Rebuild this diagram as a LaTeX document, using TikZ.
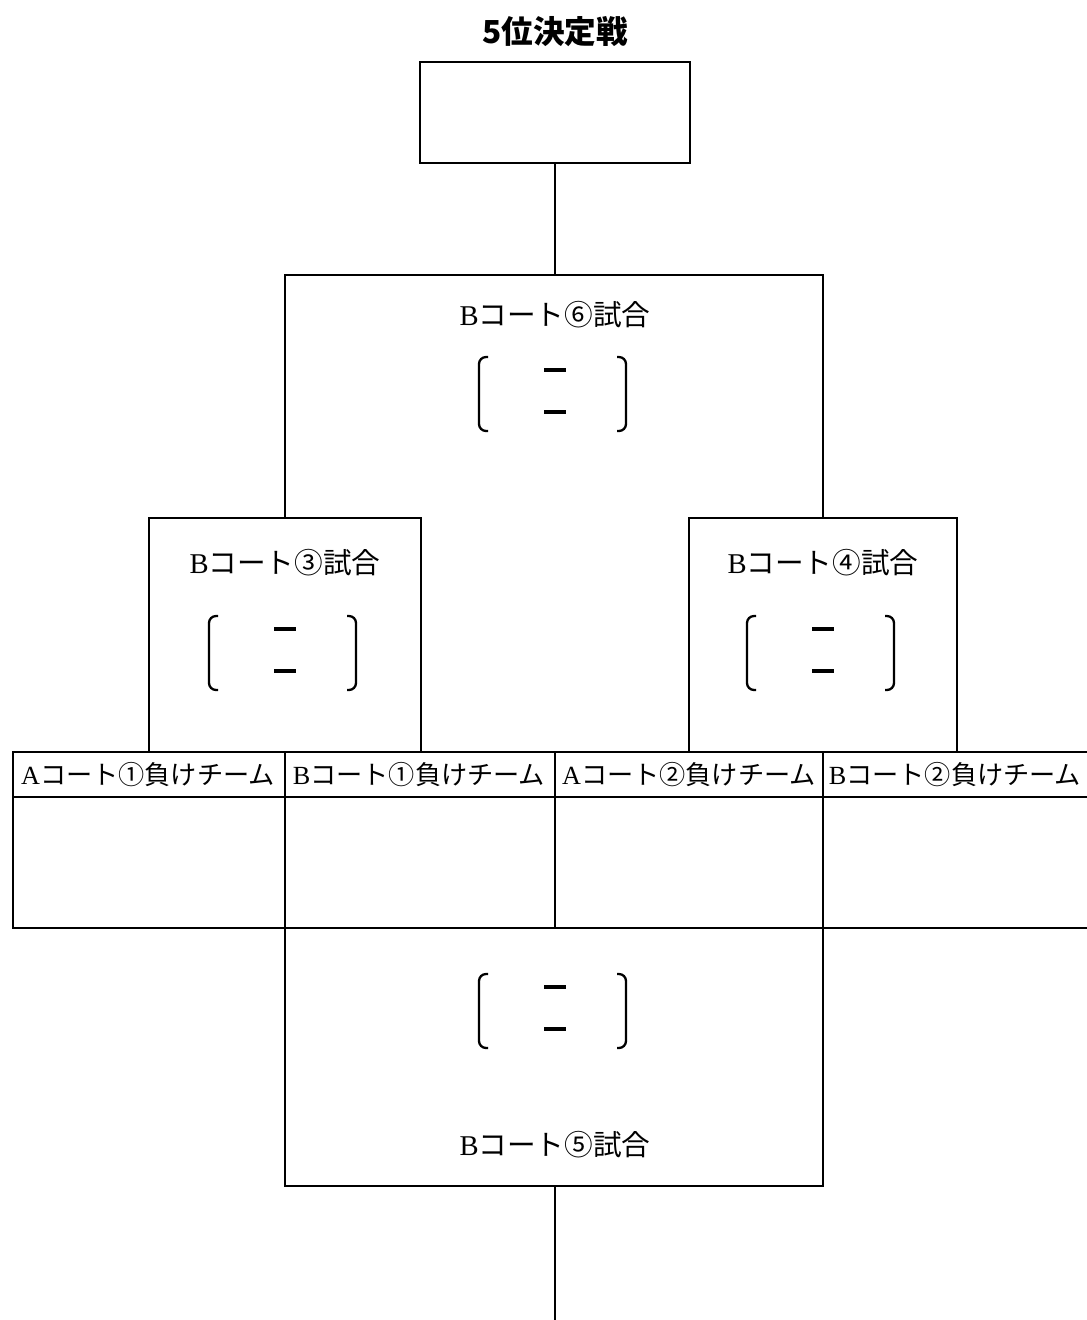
\documentclass[tikz,border=0pt]{standalone}
\usepackage{fontspec}
\setmainfont{Liberation Serif}
\newfontfamily\jpfont{Noto Sans CJK JP}
\usetikzlibrary{positioning}
\tikzset{%
	frame/.style    = {line width=1.4pt},
	title/.style    = {font=\jpfont\bfseries\fontsize{18}{20}\selectfont, inner sep=0pt},
	match/.style    = {font=\fontsize{16.3}{18}\selectfont, inner sep=0pt},
	team/.style     = {font=\fontsize{14.9}{17}\selectfont, inner sep=0pt},
	bracket/.style  = {line width=1.3pt, rounded corners=4pt},
	score/.style    = {line width=1.8pt},
}
% score brackets, centred on the dashes
\newcommand{\scoremarks}[1]{%
	\begin{scope}[shift={#1}]
		\draw[bracket] (-67,-37) -- (-76,-37) -- (-76,37) -- (-67,37);
		\draw[bracket] (62,-37) -- (71,-37) -- (71,37) -- (62,37);
		\draw[score] (-11,-24) -- (11,-24);
		\draw[score] (-11,18) -- (11,18);
	\end{scope}}

\begin{document}
\begin{tikzpicture}[x=0.02cm,y=-0.02cm]
	\useasboundingbox (0,0) rectangle (1087,1320);
	\node[title] (head) at (555,32) {5位決定戦};

	% final box and line to the semi-final
	\node[frame,draw,minimum width=5.4cm,minimum height=2.02cm] (final) at (555,112.5) {};
	\coordinate (semitop) at (555,275);
	\draw[frame] (final.south) -- (semitop);

	% B6 match
	\draw[frame] (285,518) |- (823,275) -- (823,518);
	\node[match] (m6) at (555,315) {B\jpfont コート⑥試合};
	\scoremarks{(555,394)}

	% B3 and B4 matches
	\draw[frame] (149,752) |- (421,518) -- (421,752);
	\node[match] (m3) at (285,563) {B\jpfont コート③試合};
	\scoremarks{(285,653)}

	\draw[frame] (689,752) |- (957,518) -- (957,752);
	\node[match] (m4) at (823,563) {B\jpfont コート④試合};
	\scoremarks{(823,653)}

	% teams
	\draw[frame] (1087,752) -| (13,928) -- (1087,928);
	\draw[frame] (13,797) -- (1087,797);
	\foreach \x in {285,555,823}
		\draw[frame] (\x,752) -- (\x,928);
	\node[team] (t1) at (148,775) {A\jpfont コート①負けチーム};
	\node[team] (t2) at (419,775) {B\jpfont コート①負けチーム};
	\node[team] (t3) at (689,775) {A\jpfont コート②負けチーム};
	\node[team] (t4) at (955,775) {B\jpfont コート②負けチーム};

	% B5 match
	\draw[frame] (285,928) |- (823,1186) -- (823,928);
	\scoremarks{(555,1011)}
	\node[match] (m5) at (555,1145) {B\jpfont コート⑤試合};
	\coordinate (bottom) at (555,1320);
	\draw[frame] (555,1186) -- (bottom);
\end{tikzpicture}
\end{document}
